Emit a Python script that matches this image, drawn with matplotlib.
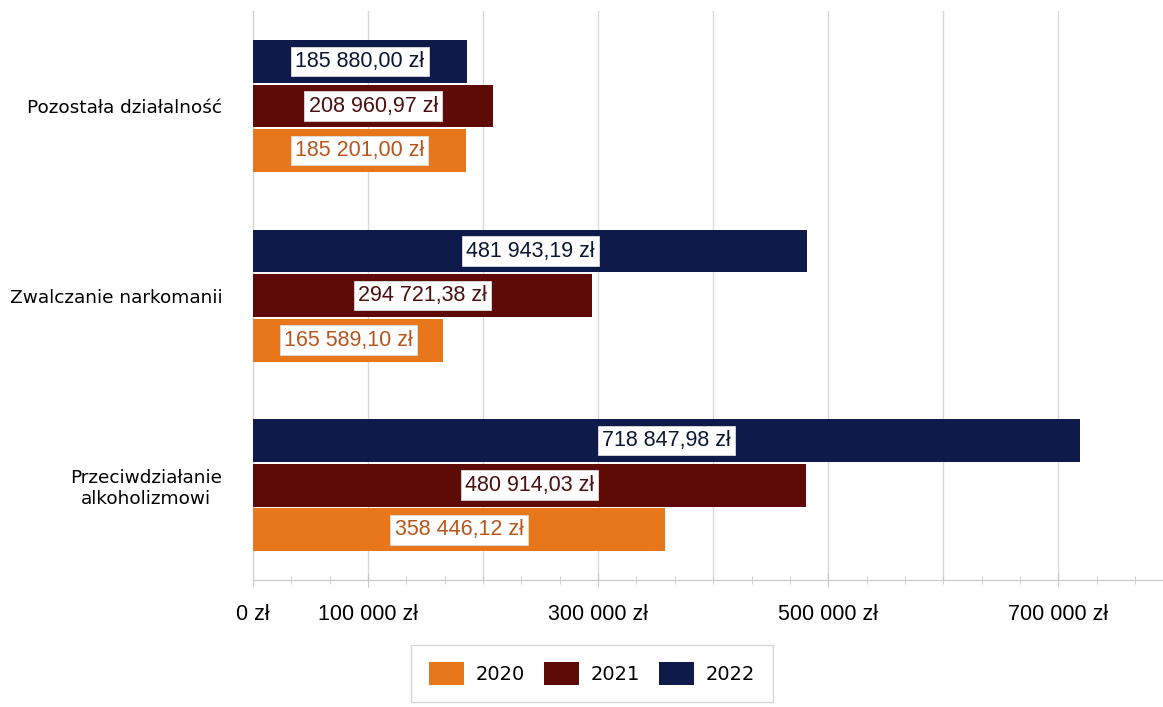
import numpy as np
import matplotlib.pyplot as plt
from matplotlib.ticker import MultipleLocator, FixedLocator

categories = ['Przeciwdziałanie\nalkoholizmowi', 'Zwalczanie narkomanii', 'Pozostała działalność']
years = ['2020', '2021', '2022']
values_2020 = [358446.12, 165589.10, 185201.00]
values_2021 = [480914.03, 294721.38, 208960.97]
values_2022 = [718847.98, 481943.19, 185880.00]
tick_values = [0, 100000, 300000, 500000, 700000]
tick_labels = ['0 zł', '100 000 zł', '300 000 zł', '500 000 zł', '700 000 zł']

bar_colors = ['#E8761A', '#5E0B08', '#0E1B4A']
text_colors = ['#B5561E', '#4A0F0F', '#0B1634']
narrow = ['Liberation Sans', 'DejaVu Sans']


def fmt_pln(v):
    s = f'{v:,.2f}'.replace(',', ' ').replace('.', ',')
    return s + ' zł'


fig = plt.figure(figsize=(11.63, 7.07), dpi=100)
ax = fig.add_axes([0.2175, 0.1796, 0.7825, 0.8045])

y = np.arange(len(categories))
h = 0.235
series = [values_2020, values_2021, values_2022]
for i, vals in enumerate(series):
    pos = y + (i - 1) * h
    ax.barh(pos, vals, height=h * 0.96, color=bar_colors[i], label=years[i], zorder=3)
    for p, v in zip(pos, vals):
        ax.text(v / 2, p, fmt_pln(v), ha='center', va='center', fontsize=15.5,
                family=narrow, color=text_colors[i], zorder=4,
                bbox=dict(boxstyle='square,pad=0.2', fc='white', ec='#dddddd', lw=0.6))

ax.set_xlim(0, 791000)
ax.set_ylim(-0.5, 2.5)
ax.set_yticks(y)
ax.set_yticklabels(categories, fontsize=13.3, multialignment='center')
ax.tick_params(axis='y', length=0, pad=22)

ax.xaxis.set_minor_locator(MultipleLocator(100000 / 3))
ax.set_xticks(tick_values)
ax.set_xticklabels(tick_labels, family=narrow, fontsize=15.5)
ax.xaxis.set_major_locator(FixedLocator(tick_values))
ax.tick_params(axis='x', which='major', length=10, color='#c8c8c8', direction='inout', pad=12)
ax.tick_params(axis='x', which='minor', length=6, color='#c8c8c8', direction='inout')

for gx in range(0, 800000, 100000):
    ax.axvline(gx, color='#d9d9d9', lw=1, zorder=0)

for side in ['top', 'right']:
    ax.spines[side].set_visible(False)
ax.spines['left'].set_color('#d0d0d0')
ax.spines['bottom'].set_color('#c8c8c8')

handles, labels = ax.get_legend_handles_labels()
fig.legend(handles, labels, loc='upper center', bbox_to_anchor=(0.509, 0.102), ncol=3,
           fontsize=14, handlelength=1.8, handleheight=1.4, columnspacing=1.0,
           handletextpad=0.6, frameon=True, edgecolor='#cccccc', fancybox=False,
           borderpad=0.9)

plt.savefig('out.png', dpi=100)
